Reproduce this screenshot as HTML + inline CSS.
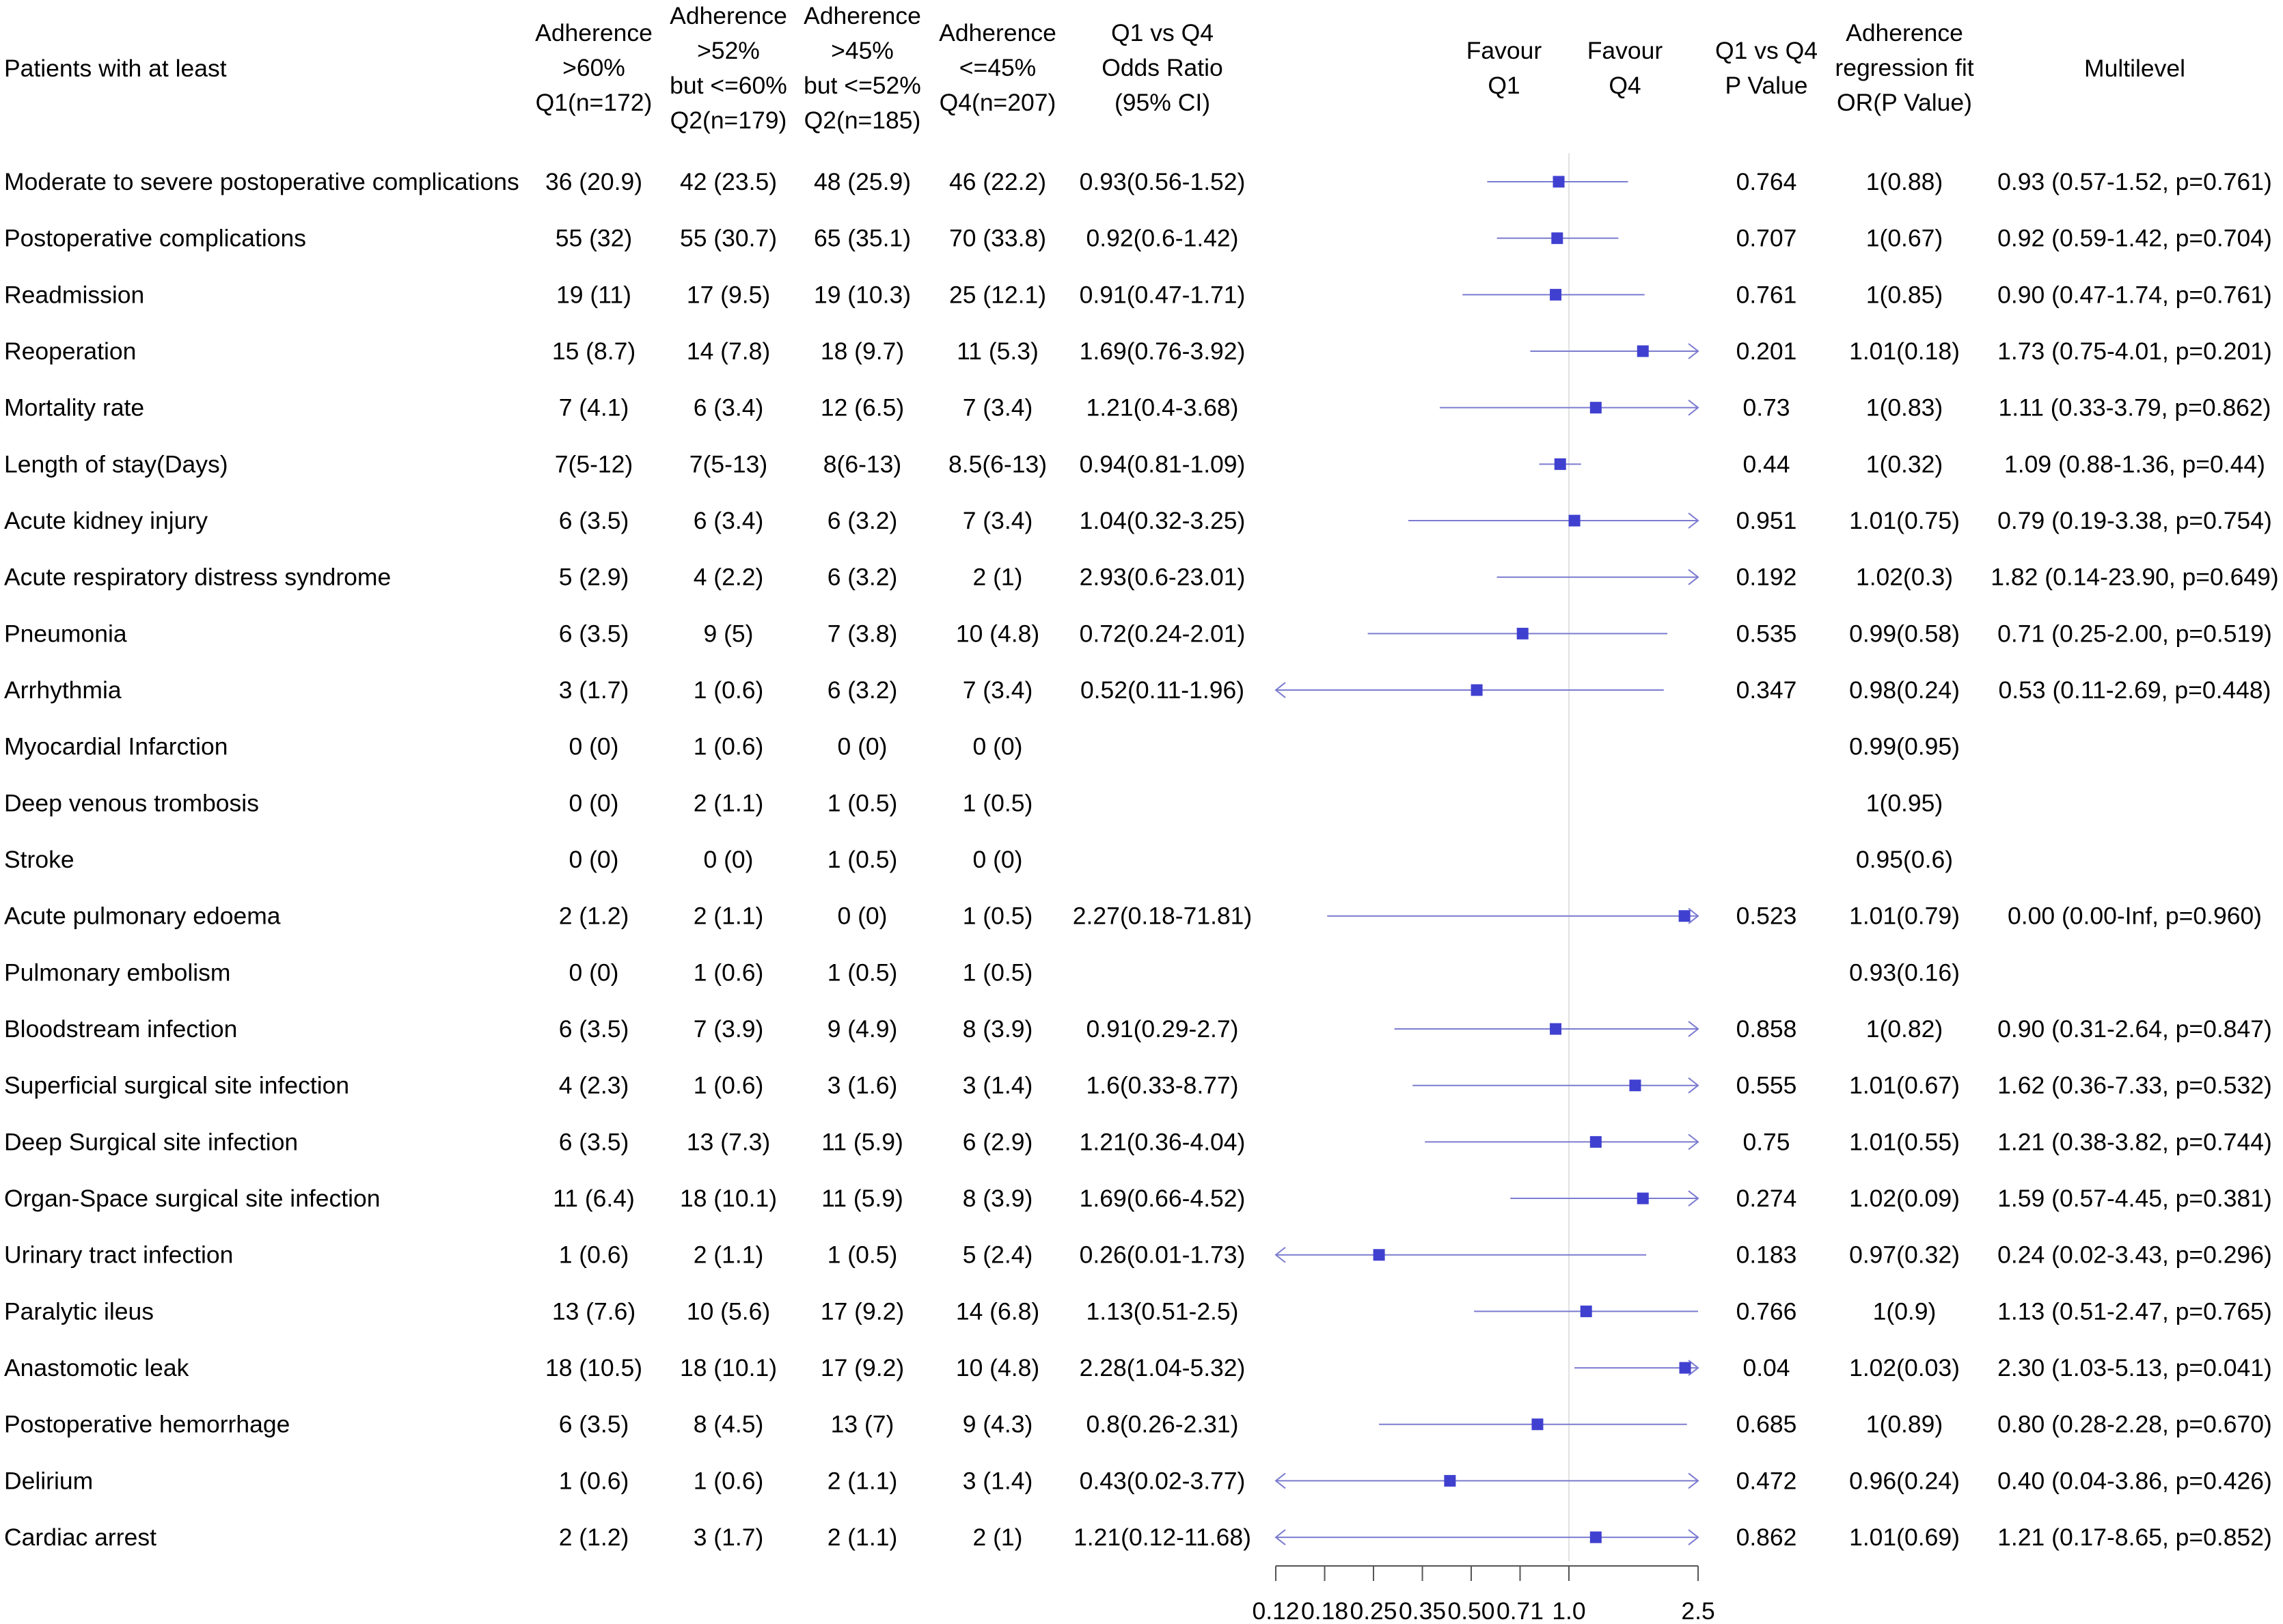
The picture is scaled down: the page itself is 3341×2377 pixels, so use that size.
<!DOCTYPE html>
<html><head><meta charset="utf-8">
<style>
html,body{margin:0;padding:0;background:#fff;}
svg{display:block;font-family:"Liberation Sans",Arial,sans-serif;}
</style></head>
<body>
<svg id="chart" width="3341" height="2377" viewBox="0 0 3341 2377" xmlns="http://www.w3.org/2000/svg">
<g id="hdr" font-size="35.5" fill="#000" text-anchor="middle">
  <text x="6" y="112" text-anchor="start">Patients with at least</text>
  <text x="869" y="60"><tspan x="869">Adherence</tspan><tspan x="869" dy="51">&gt;60%</tspan><tspan x="869" dy="51">Q1(n=172)</tspan></text>
  <text x="1066" y="35"><tspan x="1066">Adherence</tspan><tspan x="1066" dy="51">&gt;52%</tspan><tspan x="1066" dy="51">but &lt;=60%</tspan><tspan x="1066" dy="51">Q2(n=179)</tspan></text>
  <text x="1262" y="35"><tspan x="1262">Adherence</tspan><tspan x="1262" dy="51">&gt;45%</tspan><tspan x="1262" dy="51">but &lt;=52%</tspan><tspan x="1262" dy="51">Q2(n=185)</tspan></text>
  <text x="1460" y="60"><tspan x="1460">Adherence</tspan><tspan x="1460" dy="51">&lt;=45%</tspan><tspan x="1460" dy="51">Q4(n=207)</tspan></text>
  <text x="1701" y="60"><tspan x="1701">Q1 vs Q4</tspan><tspan x="1701" dy="51">Odds Ratio</tspan><tspan x="1701" dy="51">(95% CI)</tspan></text>
  <text x="2201" y="86"><tspan x="2201">Favour</tspan><tspan x="2201" dy="51">Q1</tspan></text>
  <text x="2378" y="86"><tspan x="2378">Favour</tspan><tspan x="2378" dy="51">Q4</tspan></text>
  <text x="2585" y="86"><tspan x="2585">Q1 vs Q4</tspan><tspan x="2585" dy="51">P Value</tspan></text>
  <text x="2787" y="60"><tspan x="2787">Adherence</tspan><tspan x="2787" dy="51">regression fit</tspan><tspan x="2787" dy="51">OR(P Value)</tspan></text>
  <text x="3124" y="112">Multilevel</text>
</g>
<g id="rows"></g>
<g id="plot"></g>
</svg>
<script>
const labels=["Moderate to severe postoperative complications","Postoperative complications","Readmission","Reoperation","Mortality rate","Length of stay(Days)","Acute kidney injury","Acute respiratory distress syndrome","Pneumonia","Arrhythmia","Myocardial Infarction","Deep venous trombosis","Stroke","Acute pulmonary edoema","Pulmonary embolism","Bloodstream infection","Superficial surgical site infection","Deep Surgical site infection","Organ-Space surgical site infection","Urinary tract infection","Paralytic ileus","Anastomotic leak","Postoperative hemorrhage","Delirium","Cardiac arrest"];
const q1=["36 (20.9)","55 (32)","19 (11)","15 (8.7)","7 (4.1)","7(5-12)","6 (3.5)","5 (2.9)","6 (3.5)","3 (1.7)","0 (0)","0 (0)","0 (0)","2 (1.2)","0 (0)","6 (3.5)","4 (2.3)","6 (3.5)","11 (6.4)","1 (0.6)","13 (7.6)","18 (10.5)","6 (3.5)","1 (0.6)","2 (1.2)"];
const q2=["42 (23.5)","55 (30.7)","17 (9.5)","14 (7.8)","6 (3.4)","7(5-13)","6 (3.4)","4 (2.2)","9 (5)","1 (0.6)","1 (0.6)","2 (1.1)","0 (0)","2 (1.1)","1 (0.6)","7 (3.9)","1 (0.6)","13 (7.3)","18 (10.1)","2 (1.1)","10 (5.6)","18 (10.1)","8 (4.5)","1 (0.6)","3 (1.7)"];
const q3=["48 (25.9)","65 (35.1)","19 (10.3)","18 (9.7)","12 (6.5)","8(6-13)","6 (3.2)","6 (3.2)","7 (3.8)","6 (3.2)","0 (0)","1 (0.5)","1 (0.5)","0 (0)","1 (0.5)","9 (4.9)","3 (1.6)","11 (5.9)","11 (5.9)","1 (0.5)","17 (9.2)","17 (9.2)","13 (7)","2 (1.1)","2 (1.1)"];
const q4=["46 (22.2)","70 (33.8)","25 (12.1)","11 (5.3)","7 (3.4)","8.5(6-13)","7 (3.4)","2 (1)","10 (4.8)","7 (3.4)","0 (0)","1 (0.5)","0 (0)","1 (0.5)","1 (0.5)","8 (3.9)","3 (1.4)","6 (2.9)","8 (3.9)","5 (2.4)","14 (6.8)","10 (4.8)","9 (4.3)","3 (1.4)","2 (1)"];
const orText=["0.93(0.56-1.52)","0.92(0.6-1.42)","0.91(0.47-1.71)","1.69(0.76-3.92)","1.21(0.4-3.68)","0.94(0.81-1.09)","1.04(0.32-3.25)","2.93(0.6-23.01)","0.72(0.24-2.01)","0.52(0.11-1.96)","","","","2.27(0.18-71.81)","","0.91(0.29-2.7)","1.6(0.33-8.77)","1.21(0.36-4.04)","1.69(0.66-4.52)","0.26(0.01-1.73)","1.13(0.51-2.5)","2.28(1.04-5.32)","0.8(0.26-2.31)","0.43(0.02-3.77)","1.21(0.12-11.68)"];
const orVal=[0.93,0.92,0.91,1.69,1.21,0.94,1.04,2.93,0.72,0.52,null,null,null,2.27,null,0.91,1.6,1.21,1.69,0.26,1.13,2.28,0.8,0.43,1.21];
const orLow=[0.56,0.6,0.47,0.76,0.4,0.81,0.32,0.6,0.24,0.11,null,null,null,0.18,null,0.29,0.33,0.36,0.66,0.01,0.51,1.04,0.26,0.02,0.12];
const orHigh=[1.52,1.42,1.71,3.92,3.68,1.09,3.25,23.01,2.01,1.96,null,null,null,71.81,null,2.7,8.77,4.04,4.52,1.73,2.5,5.32,2.31,3.77,11.68];
const pval=["0.764","0.707","0.761","0.201","0.73","0.44","0.951","0.192","0.535","0.347","","","","0.523","","0.858","0.555","0.75","0.274","0.183","0.766","0.04","0.685","0.472","0.862"];
const regfit=["1(0.88)","1(0.67)","1(0.85)","1.01(0.18)","1(0.83)","1(0.32)","1.01(0.75)","1.02(0.3)","0.99(0.58)","0.98(0.24)","0.99(0.95)","1(0.95)","0.95(0.6)","1.01(0.79)","0.93(0.16)","1(0.82)","1.01(0.67)","1.01(0.55)","1.02(0.09)","0.97(0.32)","1(0.9)","1.02(0.03)","1(0.89)","0.96(0.24)","1.01(0.69)"];
const multi=["0.93 (0.57-1.52, p=0.761)","0.92 (0.59-1.42, p=0.704)","0.90 (0.47-1.74, p=0.761)","1.73 (0.75-4.01, p=0.201)","1.11 (0.33-3.79, p=0.862)","1.09 (0.88-1.36, p=0.44)","0.79 (0.19-3.38, p=0.754)","1.82 (0.14-23.90, p=0.649)","0.71 (0.25-2.00, p=0.519)","0.53 (0.11-2.69, p=0.448)","","","","0.00 (0.00-Inf, p=0.960)","","0.90 (0.31-2.64, p=0.847)","1.62 (0.36-7.33, p=0.532)","1.21 (0.38-3.82, p=0.744)","1.59 (0.57-4.45, p=0.381)","0.24 (0.02-3.43, p=0.296)","1.13 (0.51-2.47, p=0.765)","2.30 (1.03-5.13, p=0.041)","0.80 (0.28-2.28, p=0.670)","0.40 (0.04-3.86, p=0.426)","1.21 (0.17-8.65, p=0.852)"];
const tickVals=[0.125,0.1768,0.25,0.3536,0.5,0.7071,1,2.5];
const tickLabels=["0.12","0.18","0.25","0.35","0.50","0.71","1.0","2.5"];

const NS="http://www.w3.org/2000/svg";
const X0=2296, K=206.3, XMIN=0.125, XMAX=2.5, FS=35.5;
function xs(v){return X0+K*Math.log(v);}
function ys(i){return 266+i*82.67;}
function mk(tag,attrs,parent){const e=document.createElementNS(NS,tag);for(const k in attrs)e.setAttribute(k,attrs[k]);parent.appendChild(e);return e;}
const rows=document.getElementById('rows'), plot=document.getElementById('plot');
const cols=[[q1,869,'q1-cell'],[q2,1066,'q2-cell'],[q3,1262,'q3-cell'],[q4,1460,'q4-cell'],[orText,1701,'odds-ratio-cell'],[pval,2585,'p-value-cell'],[regfit,2787,'regression-cell'],[multi,3124,'multilevel-cell']];
const ref=mk('line',{x1:X0,x2:X0,y1:224,y2:2285,stroke:'#e2e2e2','stroke-width':2},plot);


labels.forEach((lab,i)=>{
  const y=ys(i)+12;
  const t=mk('text',{x:6,y:y,'font-size':FS},rows);t.textContent=lab;
  
  
  cols.forEach(([arr,x,nm])=>{
    if(!arr[i])return;
    const c=mk('text',{x:x,y:y,'font-size':FS,'text-anchor':'middle'},rows);c.textContent=arr[i];
    
    
  });
  if(orLow[i]==null)return;
  const yc=ys(i);
  const lo=Math.max(orLow[i],XMIN), hi=Math.min(orHigh[i],XMAX);
  const ln=mk('line',{x1:xs(lo),x2:xs(hi),y1:yc,y2:yc,stroke:'#7b7bd0','stroke-width':2},plot);
  
  
  if(orHigh[i]>XMAX){const a=mk('polyline',{points:`${xs(XMAX)-14},${yc-11} ${xs(XMAX)},${yc} ${xs(XMAX)-14},${yc+11}`,fill:'none',stroke:'#7b7bd0','stroke-width':2},plot);
    
    }
  if(orLow[i]<XMIN){const a=mk('polyline',{points:`${xs(XMIN)+14},${yc-11} ${xs(XMIN)},${yc} ${xs(XMIN)+14},${yc+11}`,fill:'none',stroke:'#7b7bd0','stroke-width':2},plot);
    
    }
  if(orVal[i]<=XMAX&&orVal[i]>=XMIN){
    const b=mk('rect',{x:xs(orVal[i])-8.5,y:yc-8.5,width:17,height:17,fill:'#4040d0'},plot);
    
    
  }
});
const ax=mk('line',{x1:xs(XMIN),x2:xs(XMAX),y1:2292,y2:2292,stroke:'#555','stroke-width':2},plot);


tickVals.forEach((v,j)=>{
  const tk=mk('line',{x1:xs(v),x2:xs(v),y1:2292,y2:2314,stroke:'#555','stroke-width':2},plot);
  
  
  const tl=mk('text',{x:xs(v),y:2370,'font-size':FS,'text-anchor':'middle'},plot);tl.textContent=tickLabels[j];
  
  
});
</script>
</body></html>
